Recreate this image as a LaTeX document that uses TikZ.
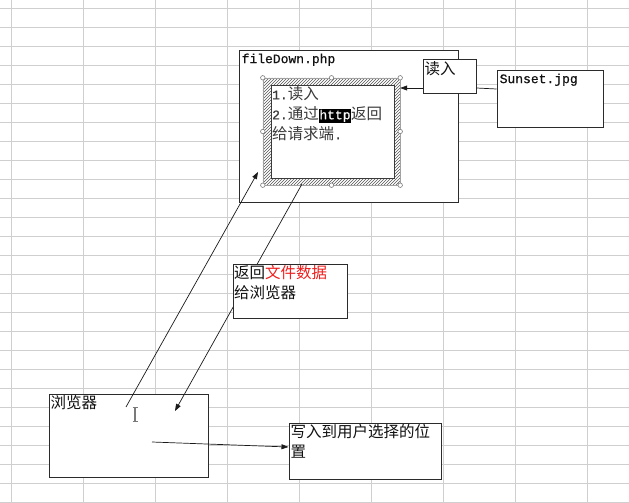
\documentclass[tikz,border=0pt]{standalone}
\usepackage{fontspec}
\setmainfont{Noto Sans CJK SC}
\setmonofont{Liberation Mono}[FakeBold=0.6]
\usetikzlibrary{
  positioning,
  arrows.meta,
  patterns,
}
\definecolor{border}{HTML}{2B2B2B}
\definecolor{gridCol}{HTML}{CFCFCF}
\definecolor{hatchCol}{HTML}{555555}
\definecolor{handleCol}{HTML}{7A7A7A}
\definecolor{textCol}{HTML}{111111}
\definecolor{textSub}{HTML}{3A3A3A}
\definecolor{redCol}{HTML}{F01E1E}
\definecolor{arrowCol}{HTML}{1A1A1A}
\newcommand{\cjkfont}{\fontsize{15.5}{20}\selectfont}
\newcommand{\asc}[1]{{\ttfamily\fontsize{13}{20}\selectfont #1}}
\tikzset{
  sheetbox/.style={
    rectangle, draw=border, fill=white, line width=1pt,
    inner sep=0pt,
  },
  boxtext/.style={
    anchor=north west, align=left, inner sep=2pt, text=textCol,
    font=\cjkfont,
  },
  handle/.style={
    circle, draw=handleCol, fill=white, line width=0.6pt,
    minimum size=4.5pt, inner sep=0pt,
  },
  arrow/.style={-{Triangle[length=7pt, width=5pt]}, arrowCol, line width=0.7pt},
  plainline/.style={arrowCol, line width=0.7pt},
}

\begin{document}
\begin{tikzpicture}[x=1pt, y=-1pt]

  % sheet background and cell grid
  \fill[white] (0,0) rectangle (629,503);
  \useasboundingbox (0,0) rectangle (629,503);
  \foreach \gx in {0,...,8} {
    \draw[gridCol, line width=0.8pt] (11.7+72*\gx,0) -- (11.7+72*\gx,503);
  }
  \foreach \gy in {0,...,26} {
    \draw[gridCol, line width=0.8pt] (0,8.3+19*\gy) -- (629,8.3+19*\gy);
  }

  % server script
  \node[sheetbox, minimum width=219, minimum height=151] (filedown) at (348.5,126.5) {};
  \node[boxtext, inner sep=3pt] (filedownTxt) at (filedown.north west) {\asc{fileDown.php}};

  % selected text box with hatched frame
  \node[rectangle, minimum width=137, minimum height=107, inner sep=0pt] (frame) at (331.5,131.5) {};
  \fill[pattern=north east lines, pattern color=hatchCol, even odd rule]
    (frame.north west) rectangle (frame.south east)
    (271,85) rectangle (394,178);
  \draw[handleCol!70, line width=0.4pt] (frame.north west) rectangle (frame.south east);
  \node[sheetbox, draw=textSub, minimum width=123, minimum height=93] (reqbox) at (332.5,131.5) {};
  \node[boxtext, text=textSub, inner sep=1.5pt] (reqTxt) at (reqbox.north west)
    {\asc{1.}读入\\\asc{2.}通过{\setlength{\fboxsep}{0.6pt}\colorbox{black}{\textcolor{white}{\asc{http}}}}返回\\给请求端\asc{.}};
  \foreach \hp in {north west, north, north east, west, east, south west, south, south east} {
    \node[handle] at (frame.\hp) {};
  }

  % read step and source file
  \node[sheetbox, minimum width=106, minimum height=56] (sunset) at (550,99) {};
  \node[boxtext, inner sep=3pt] (sunsetTxt) at (sunset.north west) {\asc{Sunset.jpg}};
  \node[sheetbox, minimum width=53, minimum height=33] (readin) at (449.5,76.5) {};
  \node[boxtext] (readinTxt) at (readin.north west) {读入};
  \draw[plainline] (sunset.west |- 0,89) -- (readin.east |- 0,88);
  \draw[arrow] (readin.west |- 0,88) -- (frame.east |- 0,88);

  % browser
  \node[sheetbox, minimum width=159, minimum height=83] (browser) at (128.5,435.5) {};
  \node[boxtext] (browserTxt) at (browser.north west) {浏览器};
  \draw[handleCol, line width=1.2pt] (135,408) -- (135,421)
    (132.5,407.5) -- (137.5,407.5) (132.5,421.5) -- (137.5,421.5);

  % free ends of the connectors
  \coordinate (reqStart) at (126,407);
  \coordinate (reqEnd) at (258,172);
  \coordinate (backStart) at (302,184);
  \coordinate (backEnd) at (175,411);
  \coordinate (saveStart) at (152,442);

  % request and reply connectors
  \draw[arrow] (reqStart) -- (reqEnd);
  \draw[arrow] (backStart) -- (backEnd);

  % reply note, drawn over the reply connector
  \node[sheetbox, minimum width=114, minimum height=54] (reply) at (290,291) {};
  \node[boxtext, inner sep=1.5pt] (replyTxt) at (reply.north west)
    {返回\textcolor{redCol}{文件数据}\\给浏览器};

  % saving to disk
  \node[sheetbox, minimum width=152, minimum height=56] (save) at (365,451) {};
  \node[boxtext] (saveTxt) at (save.north west) {写入到用户选择的位\\置};
  \draw[arrow] (saveStart) -- (save.west |- 0,447);

\end{tikzpicture}
\end{document}
